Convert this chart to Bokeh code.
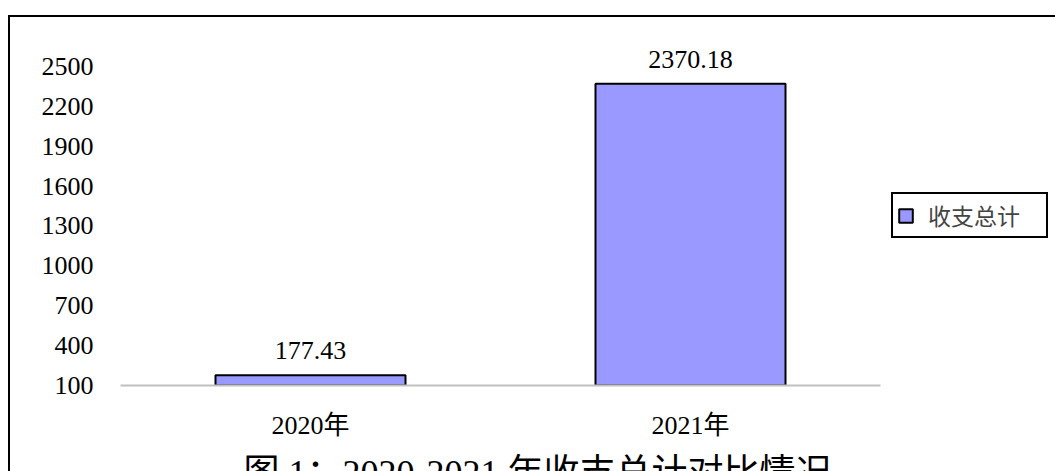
from bokeh.plotting import figure
from bokeh.models import (ColumnDataSource, FixedTicker, Range1d, Legend, LegendItem,
                          Title, LabelSet)
from bokeh.core.properties import value
from bokeh.embed import file_html
from bokeh.resources import INLINE

categories = ["2020年", "2021年"]
totals = [177.43, 2370.18]
total_labels = ["177.43", "2370.18"]
y_ticks = [100, 400, 700, 1000, 1300, 1600, 1900, 2200, 2500]
series_name = "收支总计"
title_text = "图 1：2020-2021 年收支总计对比情况"

FONT = "Liberation Serif, Noto Sans CJK SC"
CJK = "Noto Sans CJK SC"

src = ColumnDataSource(dict(cat=categories, total=totals, lab=total_labels))

p = figure(x_range=categories, y_range=Range1d(100, 2695),
           frame_width=760, frame_height=345, output_backend="svg", toolbar_location=None,
           min_border_left=110, min_border_right=10, min_border_top=23, min_border_bottom=60)
p.styles = {"margin-top": "15px", "margin-left": "8px",
            "border-left": "2px solid black", "border-top": "2px solid black"}

p.outline_line_color = None
p.xgrid.grid_line_color = None
p.ygrid.grid_line_color = None
p.background_fill_color = "white"
p.border_fill_color = "white"

bars = p.vbar(x="cat", top="total", bottom=100, width=0.5, source=src,
              fill_color="#9999FF", line_color="black", line_width=2)

labels = LabelSet(x="cat", y="total", text="lab", source=src, text_align="center",
                  text_baseline="bottom", y_offset=16, text_font=value(FONT),
                  text_font_size="26px", text_color="black")
p.add_layout(labels)

p.yaxis.ticker = FixedTicker(ticks=y_ticks)
p.yaxis.axis_line_color = None
p.yaxis.major_tick_line_color = None
p.yaxis.minor_tick_line_color = None
p.yaxis.major_label_standoff = 21
p.yaxis.major_label_text_font = FONT
p.yaxis.major_label_text_font_size = "26px"
p.yaxis.major_label_text_color = "black"

p.xaxis.axis_line_color = "#C0C0C0"
p.xaxis.axis_line_width = 2
p.xaxis.major_tick_line_color = None
p.xaxis.minor_tick_line_color = None
p.xaxis.major_label_standoff = 19
p.xaxis.major_label_text_font = FONT
p.xaxis.major_label_text_font_size = "26px"
p.xaxis.major_label_text_color = "black"

legend = Legend(items=[LegendItem(label=series_name, renderers=[bars])],
                location=(11, 147), margin=0, padding=4,
                glyph_width=17, glyph_height=17, label_standoff=14, label_width=114,
                border_line_color="black", border_line_width=2, border_line_alpha=1,
                label_text_font=CJK, label_text_font_size="23px",
                background_fill_alpha=1)
p.add_layout(legend, "right")

title = Title(text=title_text, align="left", offset=123, standoff=16,
              text_font=FONT, text_font_size="36px", text_font_style="normal",
              text_color="black")
p.add_layout(title, "below")

open("out.html", "w").write(file_html(p, INLINE))
